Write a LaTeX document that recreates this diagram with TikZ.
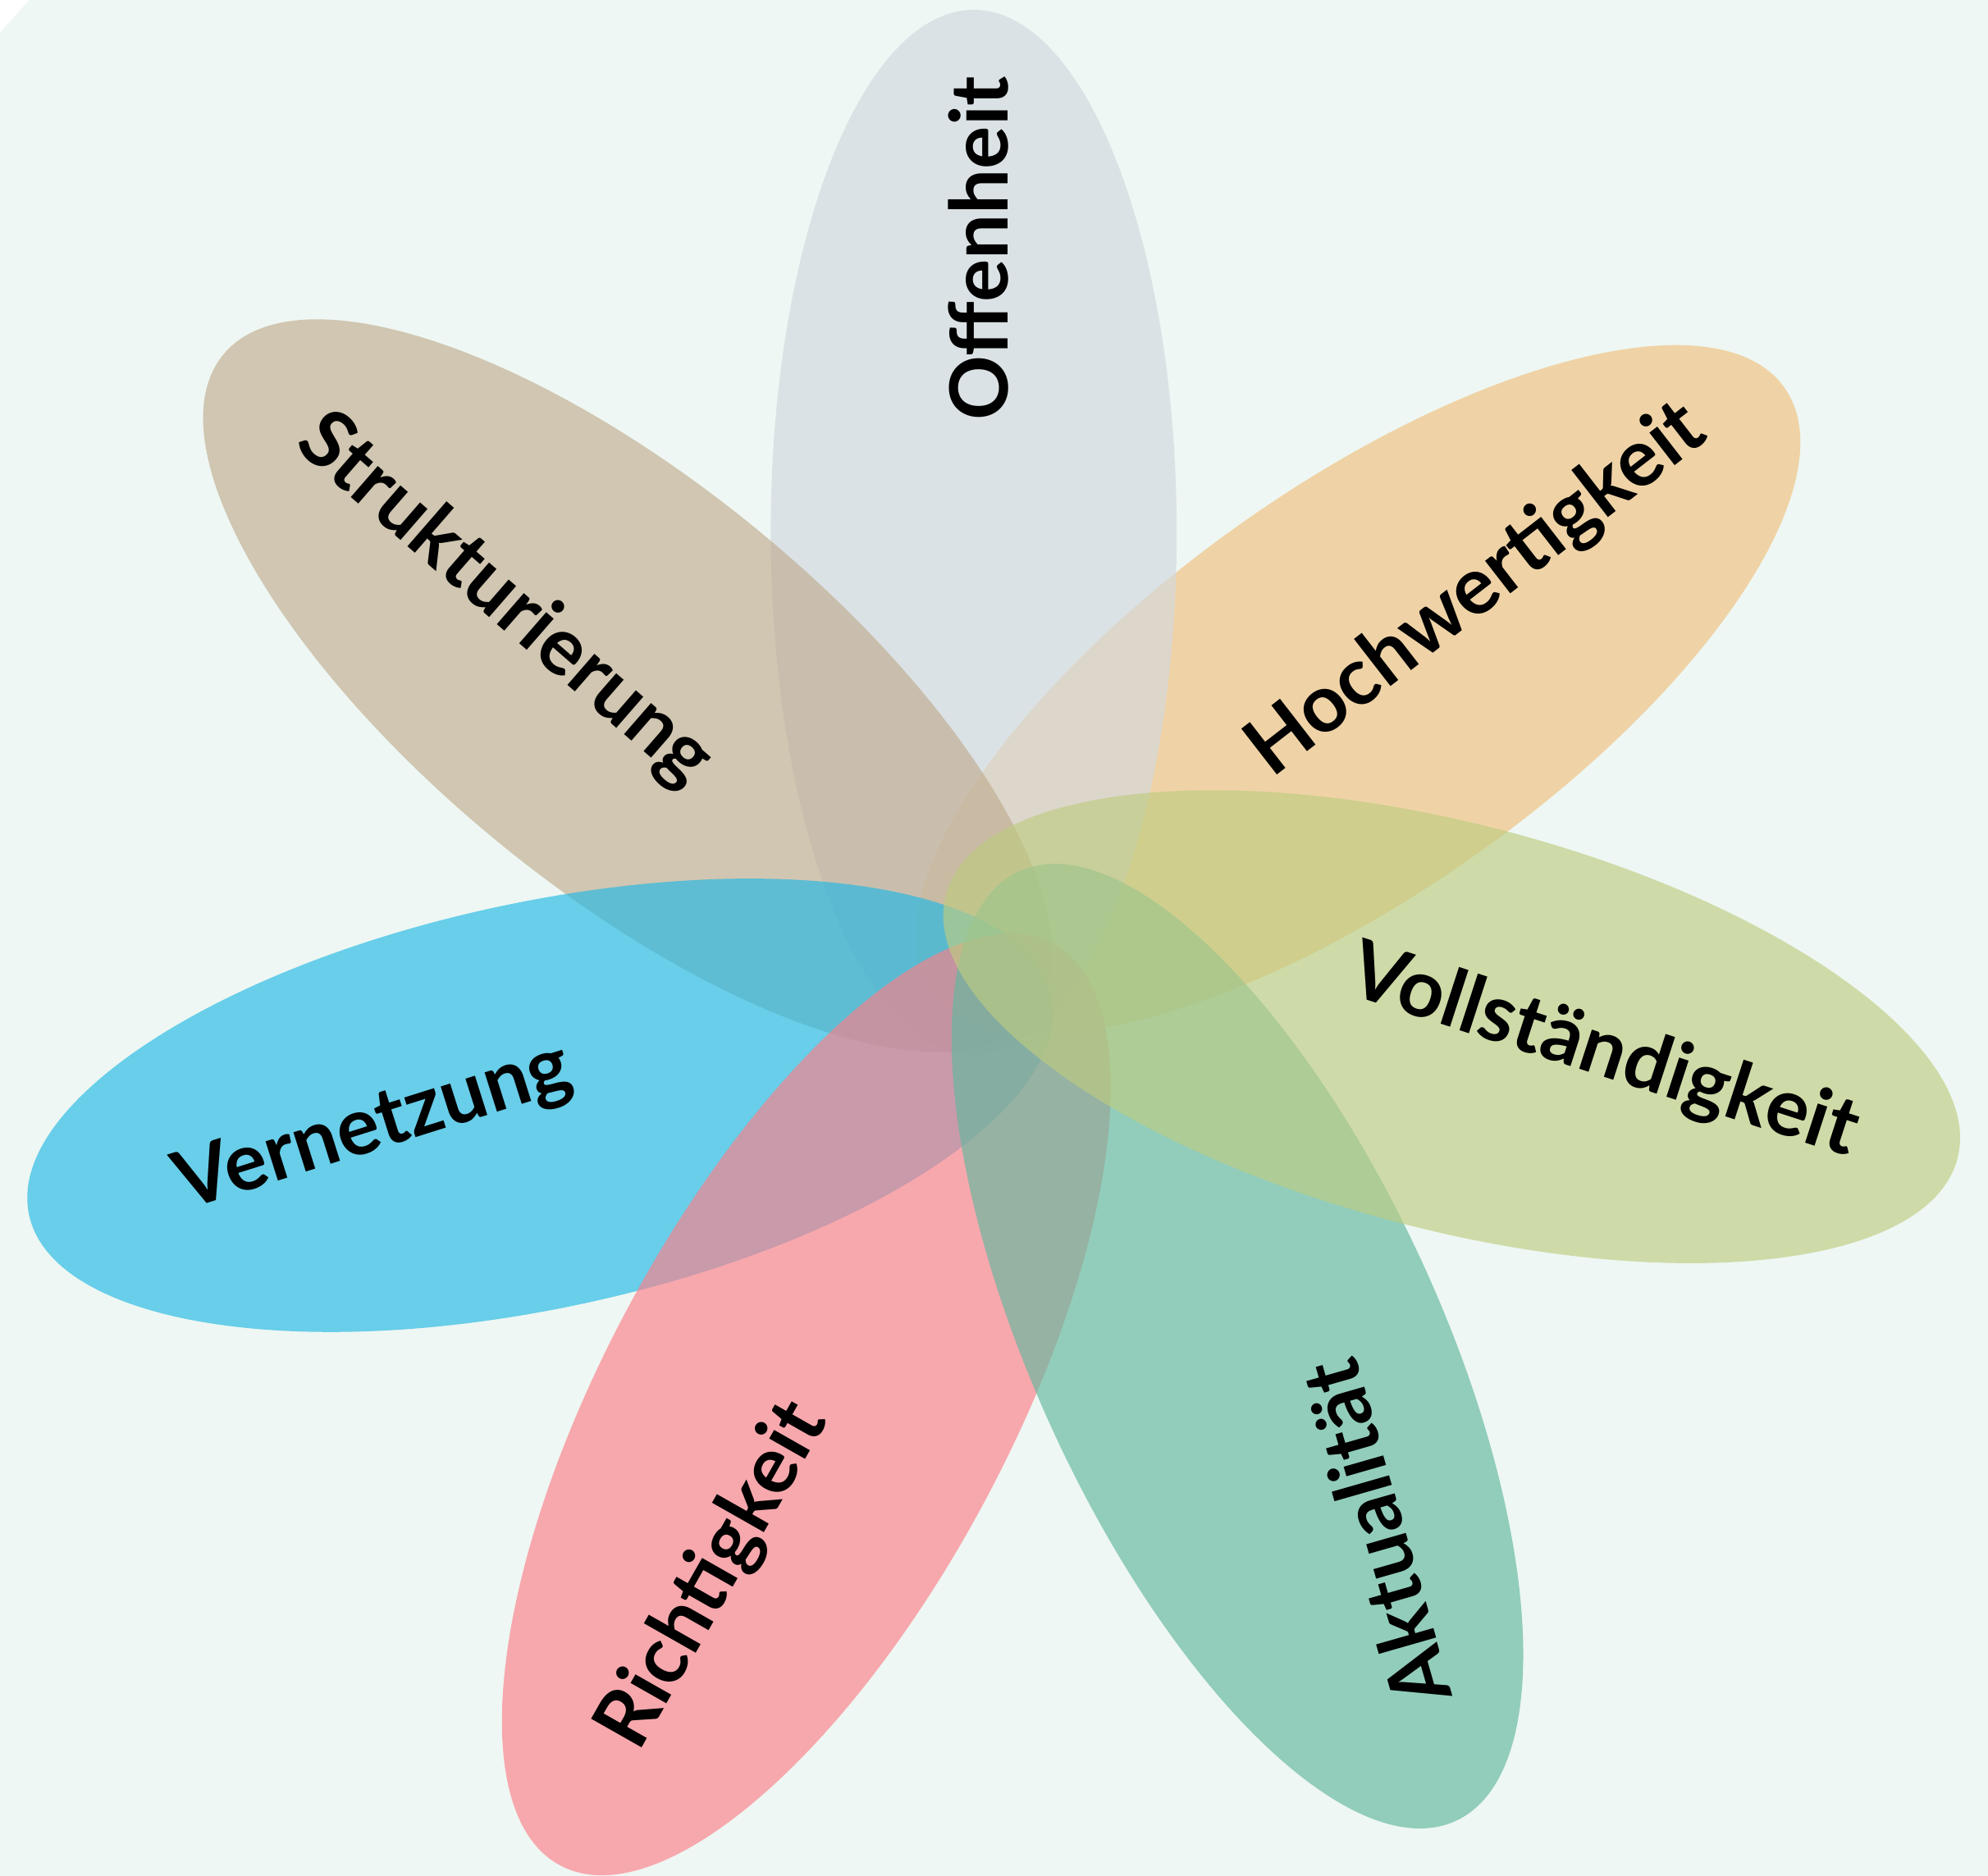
\documentclass[tikz,border=0pt]{standalone}
\usepackage{fontspec}
\setmainfont{Lato}
\usetikzlibrary{shapes.geometric}

\definecolor{bgmint}{HTML}{EEF7F3}
\definecolor{cOffen}{HTML}{D2D8DF}
\definecolor{cHoch}{HTML}{F1C07E}
\definecolor{cVoll}{HTML}{BECC81}
\definecolor{cAktu}{HTML}{62B89E}
\definecolor{cRicht}{HTML}{FD7F89}
\definecolor{cVernetz}{HTML}{21B9E5}
\definecolor{cStrukt}{HTML}{C0AC8F}

\tikzset{
  petal/.style={ellipse, inner sep=0pt, minimum width=8.24cm, minimum height=3.2cm, fill opacity=0.65},
  word/.style={font=\fontsize{18}{20}\selectfont\bfseries, inner sep=0pt, text=black}
}

\begin{document}
\begin{tikzpicture}[x=0.01cm, y=-0.01cm]
    \useasboundingbox (0,0) rectangle (1568,1480);
    % background with the cut corner
    \fill[bgmint] (23,0) -- (1568,0) -- (1568,1480) -- (0,1480) -- (0,26) -- cycle;

    % petals, back to front
    \node[petal, fill=cHoch, rotate=35.3] (hoch) at (1071,544) {};
    \node[petal, fill=cOffen, rotate=90] (offen) at (768,420) {};
    \node[petal, fill=cStrukt, rotate=-39.3] (strukt) at (495,541) {};
    \node[petal, fill=cVernetz, rotate=12.1] (vernetz) at (426,872) {};
    \node[petal, fill=cRicht, rotate=61.9] (richt) at (636,1108) {};
    \node[petal, fill=cAktu, rotate=-65.3] (aktu) at (976,1062) {};
    \node[petal, fill=cVoll, rotate=-14.6] (voll) at (1145,810) {};

    % labels
    \node[word, rotate=90] (tOffen) at (772,196) {Offenheit};
    \node[word, rotate=37.8] (tHoch) at (1165,466) {Hochwertigkeit};
    \node[word, rotate=-18] (tVoll) at (1265,831) {Vollständigkeit};
    \node[word, rotate=106] (tAktu) at (1085,1210) {Aktualität};
    \node[word, rotate=60.4] (tRicht) at (563,1243) {Richtigkeit};
    \node[word, rotate=17.5] (tVernetz) at (295,890) {Vernetzung};
    \node[word, rotate=-41] (tStrukt) at (398,474) {Strukturierung};
\end{tikzpicture}
\end{document}
